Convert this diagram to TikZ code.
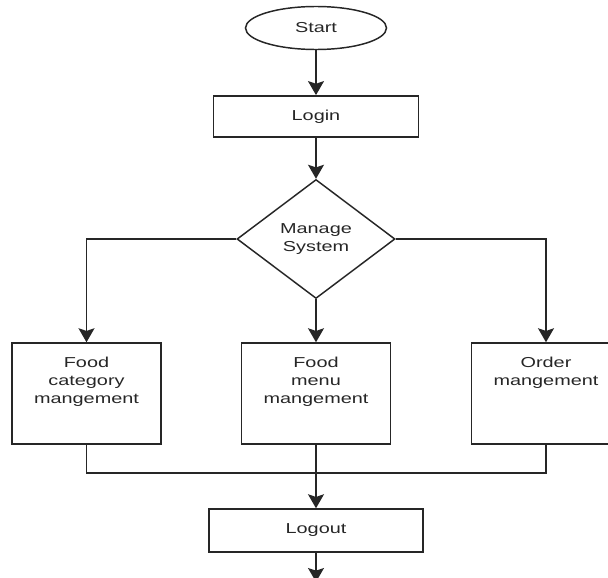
\documentclass[tikz,border=0pt]{standalone}
\usepackage{fontspec}
\setmainfont{Liberation Sans}[FakeStretch=1.38]
\usetikzlibrary{shapes.geometric,arrows.meta}

\begin{document}
\begin{tikzpicture}[x=0.75pt, y=-0.75pt, line width=1.1pt, draw=black!85, text=black!85,
    every node/.style={font=\fontsize{10.8}{13.75}\selectfont, inner sep=0pt},
    flow/.style={-{Stealth[length=10.5pt, width=12pt, inset=2pt]}},
    terminal/.style={draw, ellipse, minimum width=105.75pt, minimum height=32.25pt},
    process/.style={draw, rectangle, minimum height=31pt},
    decision/.style={draw, diamond, align=center, minimum width=118.5pt, minimum height=89.25pt},
    taskbox/.style={draw, rectangle, minimum width=112pt, minimum height=75.75pt},
    tasktext/.style={anchor=north, align=center, inner sep=0pt, yshift=-10.2pt}]
    \clip (0,0) rectangle (608,578);
    \node[terminal] (start) at (316,28) {Start};
    \node[process, minimum width=153.75pt] (login) at (316,116.5) {Login};
    \node[decision] (manage) at (316,239) {Manage\\System};
    \node[taskbox, label={[tasktext]north:Food\\category\\mangement}] (fcat) at (86.5,393.5) {};
    \node[taskbox, label={[tasktext]north:Food\\menu\\mangement}] (fmenu) at (316,393.5) {};
    \node[taskbox, label={[tasktext]north:Order\\mangement}] (order) at (546,393.5) {};
    \node[process, minimum width=160.5pt, minimum height=32.25pt] (logout) at (316,530.5) {Logout};
    \coordinate (bus) at (316,473); \coordinate (stop) at (316,582);

    \draw[flow] (start) -- (login); \draw[flow] (login) -- (manage);
    \draw[flow] (manage.west) -| (fcat); \draw[flow] (manage) -- (fmenu);
    \draw[flow] (manage.east) -| (order);
    \draw (fcat.south) |- (order.south |- bus) -- (order.south);
    \draw[flow] (fmenu) -- (logout); \draw[flow] (logout) -- (stop);
\end{tikzpicture}
\end{document}
